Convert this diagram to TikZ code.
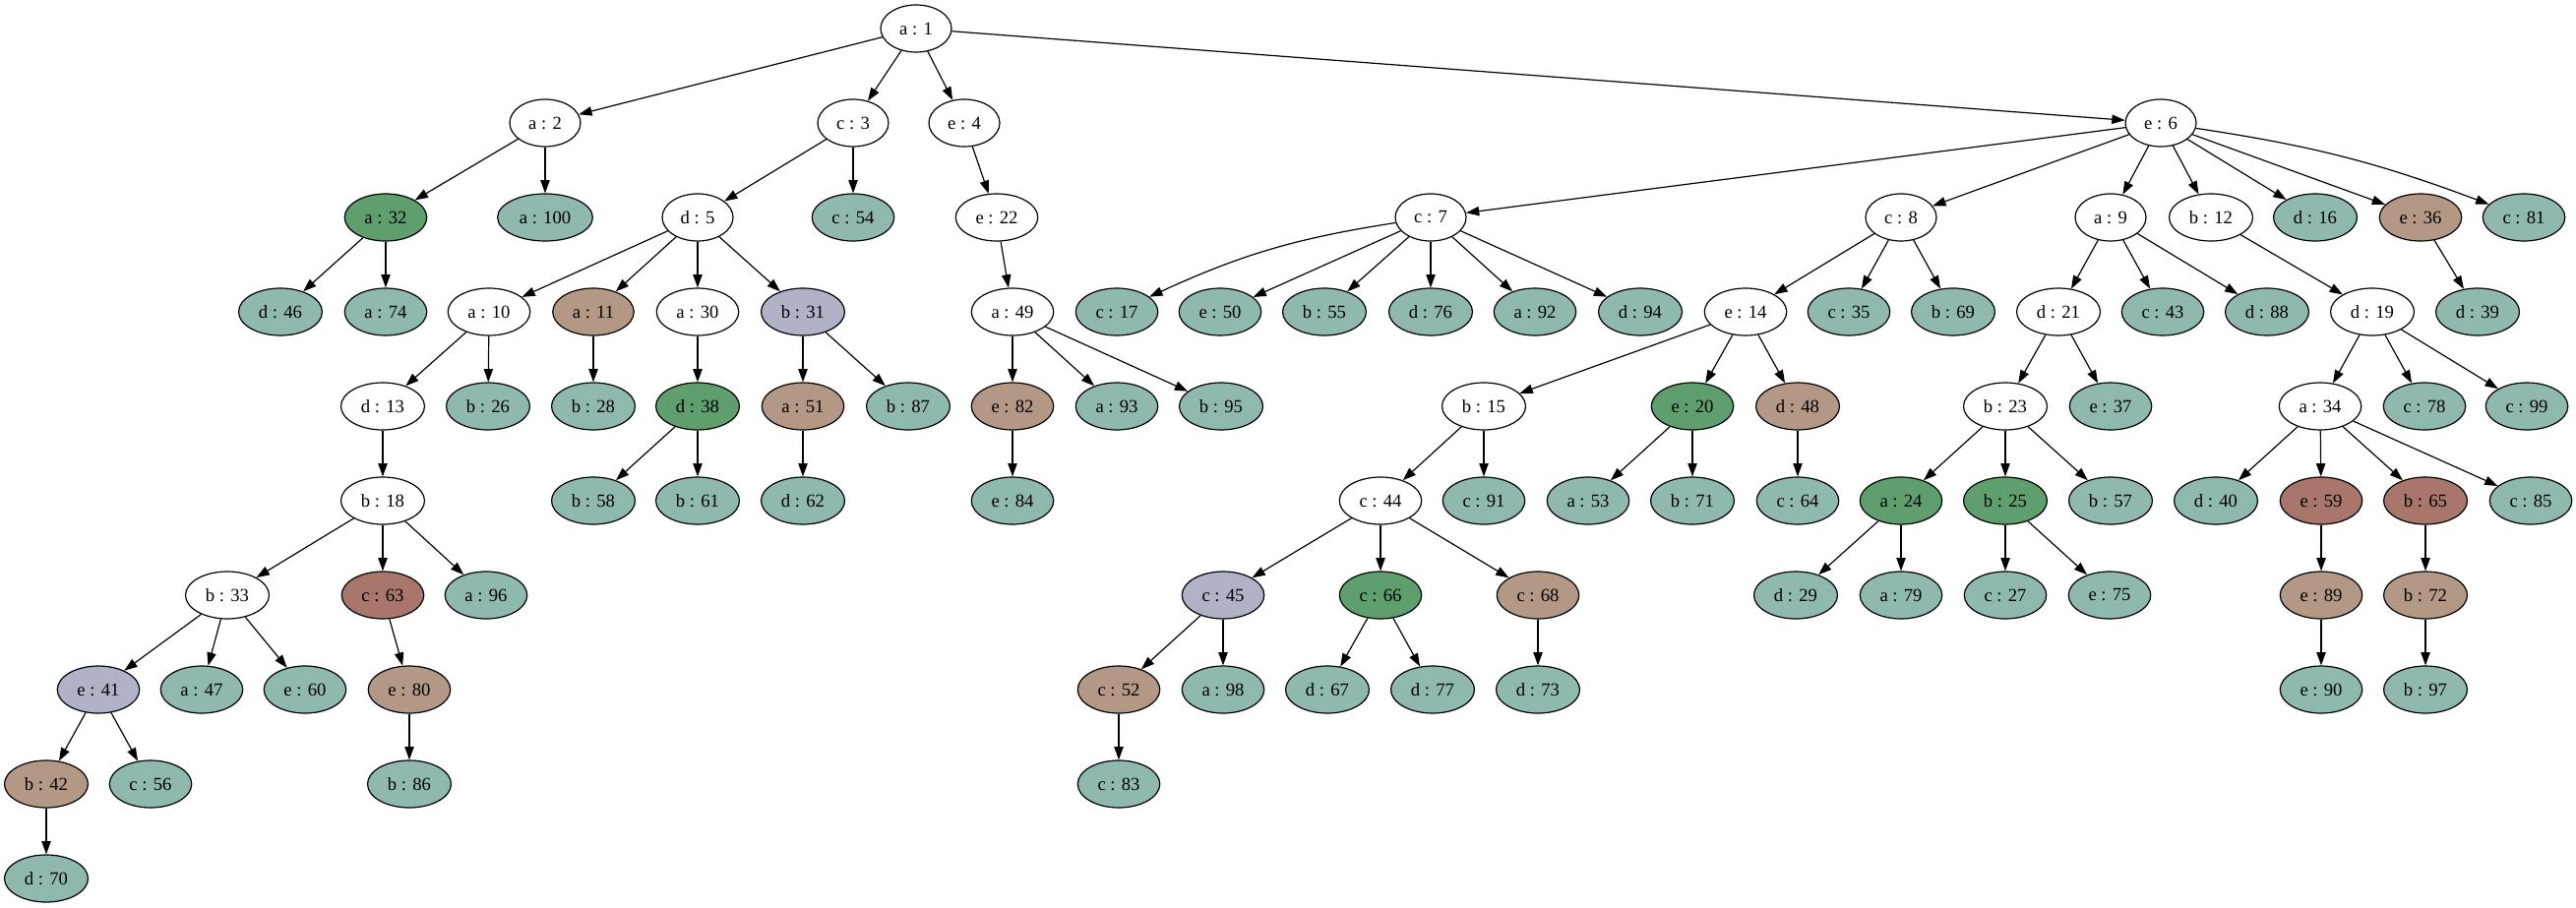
\documentclass[tikz,border=0pt]{standalone}
\usepackage{fontspec}
\setmainfont{Liberation Serif}
\usetikzlibrary{shapes.geometric,arrows.meta}
\definecolor{cteal}{HTML}{8FB8AF}
\definecolor{cgreen}{HTML}{5E9F6D}
\definecolor{cbrown}{HTML}{B39985}
\definecolor{clav}{HTML}{B0B3C8}
\definecolor{cred}{HTML}{A8766B}
\tikzset{
  gv/.style={ellipse,draw=black,line width=0.9pt,minimum width=54pt,minimum height=36pt,
    inner xsep=6pt,inner ysep=2pt,font=\fontsize{14}{16}\selectfont},
  wn/.style={gv,fill=white},
  tn/.style={gv,fill=cteal},
  gn/.style={gv,fill=cgreen},
  bn/.style={gv,fill=cbrown},
  ln/.style={gv,fill=clav},
  rn/.style={gv,fill=cred},
  edge/.style={draw=black,line width=0.9pt,-{Triangle[length=10pt,width=7pt]}}
}
\begin{document}
\begin{tikzpicture}[x=0.75pt,y=-0.75pt]
\useasboundingbox (0,0) rectangle (2618,923);
% rank 0
\node[wn] (n1) at (931,29) {a : 1};
% rank 1
\node[wn] (n2) at (554,125) {a : 2};
\node[wn] (n3) at (867,125) {c : 3};
\node[wn] (n4) at (980,125) {e : 4};
\node[wn] (n6) at (2196,125) {e : 6};
% rank 2
\node[gn] (n32) at (392,221) {a : 32};
\node[tn] (n100) at (554,221) {a : 100};
\node[wn] (n5) at (709,221) {d : 5};
\node[tn] (n54) at (867,221) {c : 54};
\node[wn] (n22) at (1013,221) {e : 22};
\node[wn] (n7) at (1454,221) {c : 7};
\node[wn] (n8) at (1932,221) {c : 8};
\node[wn] (n9) at (2145,221) {a : 9};
\node[wn] (n12) at (2247,221) {b : 12};
\node[tn] (n16) at (2353,221) {d : 16};
\node[bn] (n36) at (2460,221) {e : 36};
\node[tn] (n81) at (2565,221) {c : 81};
% rank 3
\node[tn] (n46) at (285,317) {d : 46};
\node[tn] (n74) at (392,317) {a : 74};
\node[wn] (n10) at (497,317) {a : 10};
\node[bn] (n11) at (603,317) {a : 11};
\node[wn] (n30) at (709,317) {a : 30};
\node[ln] (n31) at (816,317) {b : 31};
\node[wn] (n49) at (1029,317) {a : 49};
\node[tn] (n17) at (1135,317) {c : 17};
\node[tn] (n50) at (1240,317) {e : 50};
\node[tn] (n55) at (1346,317) {b : 55};
\node[tn] (n76) at (1454,317) {d : 76};
\node[tn] (n92) at (1560,317) {a : 92};
\node[tn] (n94) at (1667,317) {d : 94};
\node[wn] (n14) at (1774,317) {e : 14};
\node[tn] (n35) at (1879,317) {c : 35};
\node[tn] (n69) at (1985,317) {b : 69};
\node[wn] (n21) at (2092,317) {d : 21};
\node[tn] (n43) at (2198,317) {c : 43};
\node[tn] (n88) at (2304,317) {d : 88};
\node[wn] (n19) at (2411,317) {d : 19};
\node[tn] (n39) at (2518,317) {d : 39};
% rank 4
\node[wn] (n13) at (389,413) {d : 13};
\node[tn] (n26) at (496,413) {b : 26};
\node[tn] (n28) at (603,413) {b : 28};
\node[gn] (n38) at (709,413) {d : 38};
\node[bn] (n51) at (816,413) {a : 51};
\node[tn] (n87) at (923,413) {b : 87};
\node[bn] (n82) at (1029,413) {e : 82};
\node[tn] (n93) at (1135,413) {a : 93};
\node[tn] (n95) at (1241,413) {b : 95};
\node[wn] (n15) at (1508,413) {b : 15};
\node[gn] (n20) at (1720,413) {e : 20};
\node[bn] (n48) at (1827,413) {d : 48};
\node[wn] (n23) at (2038,413) {b : 23};
\node[tn] (n37) at (2145,413) {e : 37};
\node[wn] (n34) at (2358,413) {a : 34};
\node[tn] (n78) at (2464,413) {c : 78};
\node[tn] (n99) at (2568,413) {c : 99};
% rank 5
\node[wn] (n18) at (389,509) {b : 18};
\node[tn] (n58) at (603,509) {b : 58};
\node[tn] (n61) at (709,509) {b : 61};
\node[tn] (n62) at (816,509) {d : 62};
\node[tn] (n84) at (1029,509) {e : 84};
\node[wn] (n44) at (1403,509) {c : 44};
\node[tn] (n91) at (1508,509) {c : 91};
\node[tn] (n53) at (1614,509) {a : 53};
\node[tn] (n71) at (1720,509) {b : 71};
\node[tn] (n64) at (1827,509) {c : 64};
\node[gn] (n24) at (1932,509) {a : 24};
\node[gn] (n25) at (2038,509) {b : 25};
\node[tn] (n57) at (2145,509) {b : 57};
\node[tn] (n40) at (2252,509) {d : 40};
\node[rn] (n59) at (2359,509) {e : 59};
\node[rn] (n65) at (2465,509) {b : 65};
\node[tn] (n85) at (2572,509) {c : 85};
% rank 6
\node[wn] (n33) at (231,605) {b : 33};
\node[rn] (n63) at (389,605) {c : 63};
\node[tn] (n96) at (494,605) {a : 96};
\node[ln] (n45) at (1243,605) {c : 45};
\node[gn] (n66) at (1403,605) {c : 66};
\node[bn] (n68) at (1563,605) {c : 68};
\node[tn] (n29) at (1825,605) {d : 29};
\node[tn] (n79) at (1932,605) {a : 79};
\node[tn] (n27) at (2038,605) {c : 27};
\node[tn] (n75) at (2144,605) {e : 75};
\node[bn] (n89) at (2359,605) {e : 89};
\node[bn] (n72) at (2465,605) {b : 72};
% rank 7
\node[ln] (n41) at (100,701) {e : 41};
\node[tn] (n47) at (205,701) {a : 47};
\node[tn] (n60) at (310,701) {e : 60};
\node[bn] (n80) at (416,701) {e : 80};
\node[bn] (n52) at (1137,701) {c : 52};
\node[tn] (n98) at (1243,701) {a : 98};
\node[tn] (n67) at (1349,701) {d : 67};
\node[tn] (n77) at (1456,701) {d : 77};
\node[tn] (n73) at (1563,701) {d : 73};
\node[tn] (n90) at (2359,701) {e : 90};
\node[tn] (n97) at (2465,701) {b : 97};
% rank 8
\node[bn] (n42) at (47,797) {b : 42};
\node[tn] (n56) at (153,797) {c : 56};
\node[tn] (n86) at (416,797) {b : 86};
\node[tn] (n83) at (1137,797) {c : 83};
% rank 9
\node[tn] (n70) at (47,893) {d : 70};
% edges
\foreach \s/\t in {1/2,1/3,1/4,1/6,2/32,2/100,32/46,32/74,3/5,3/54,
  5/10,5/11,5/30,5/31,10/13,10/26,11/28,30/38,31/51,31/87,13/18,
  38/58,38/61,51/62,18/33,18/63,18/96,33/41,33/47,33/60,63/80,
  41/42,41/56,80/86,42/70,4/22,22/49,49/82,49/93,49/95,82/84,
  6/7,6/8,6/9,6/12,6/16,6/36,7/50,7/55,7/76,7/92,7/94,
  8/14,8/35,8/69,14/15,14/20,14/48,15/44,15/91,20/53,20/71,48/64,
  44/45,44/66,44/68,45/52,45/98,52/83,66/67,66/77,68/73,
  9/21,9/43,9/88,21/23,21/37,23/24,23/25,23/57,24/29,24/79,25/27,25/75,
  12/19,19/34,19/78,19/99,34/40,34/59,34/65,34/85,59/89,89/90,65/72,72/97,36/39}
  {\draw[edge] (n\s) -- (n\t);}
\draw[edge] (n7) to[bend right=8] (n17);
\draw[edge] (n6) to[bend left=6] (n81);
\end{tikzpicture}
\end{document}
